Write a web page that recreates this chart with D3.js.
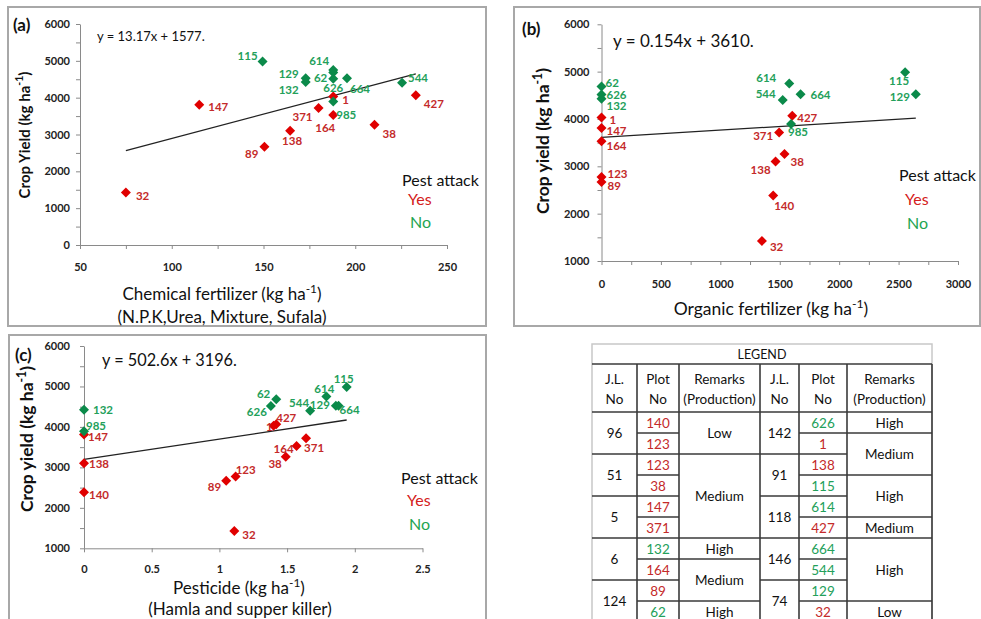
<!DOCTYPE html>
<html>
<head>
<meta charset="utf-8">
<script src="https://cdnjs.cloudflare.com/ajax/libs/d3/7.8.5/d3.min.js"></script>
<style>
body{margin:0;background:#fff;}
svg{display:block;font-family:Lato,"Open Sans",sans-serif;}
</style>
</head>
<body>
<svg id="chart" width="981" height="619"></svg>
<script>

// plot numbers and the crop yield of each plot (kg/ha)
var plotNo     = ["1","32","38","62","89","115","123","129","132","138","140","147","164","371","427","544","614","626","664","985"];
var pestAttack = ["Yes","Yes","Yes","No","Yes","No","Yes","No","No","Yes","Yes","Yes","Yes","Yes","Yes","No","No","No","No","No"];
var cropYield  = [4030,1425,3262,4685,2669,4985,2777,4525,4425,3102,2385,3810,3530,3717,4067,4402,4752,4515,4525,3894];

// inputs (null = not shown in that panel)
var chemFert   = [188,75,210.5,188,150.5,149.5,null,173,173,164.5,null,115,188,180,233,225.5,188,188,195.5,188];
var orgFert    = [0,1350,1540,0,0,2555,0,2645,0,1465,1445,0,0,1495,1605,1525,1580,0,1675,1595];
var pesticide  = [1.40,1.11,1.49,1.42,1.05,1.94,1.12,1.86,0,0,0,0,1.57,1.64,1.42,1.67,1.79,1.38,1.88,0];

// regression lines
var trendSlope     = [13.17,0.154,502.6];
var trendIntercept = [1577,3610,3196];
var trendText      = ["y = 13.17x + 1577.","y = 0.154x + 3610.","y = 502.6x + 3196."];

// tick labels
var chemTicks = [50,100,150,200,250];
var orgTicks  = [0,500,1000,1500,2000,2500,3000];
var pestTicks = [0,0.5,1,1.5,2,2.5];
var yieldTicksA = [0,1000,2000,3000,4000,5000,6000];
var yieldTicksBC = [1000,2000,3000,4000,5000,6000];

// legend table
var legJLLeft     = ["96","51","5","6","124"];
var legPlotLeft   = ["140","123","123","38","147","371","132","164","89","62"];
var legRemarkLeft = [["Low",2],["Medium",4],["High",1],["Medium",2],["High",1]];
var legJLRight     = ["142","91","118","146","74"];
var legPlotRight   = ["626","1","138","115","614","427","664","544","129","32"];
var legRemarkRight = [["High",1],["Medium",2],["High",2],["Medium",1],["High",3],["Low",1]];

var redMark="#e00000", greenMark="#0b8a4a", redText="#c42a2a", greenText="#23a05a";

// label offsets [dx, dy, anchor] for each panel
var labelPos = {
 a:{"1":[9,3,"start"],"32":[10,3,"start"],"38":[8,9,"start"],"62":[-6,5,"end"],"89":[-6,7,"end"],"115":[-5,-6,"end"],
    "129":[-7,-5,"end"],"132":[-7,7,"end"],"138":[2,10,"middle"],"147":[9,2,"start"],"164":[-8,13,"middle"],
    "371":[-6,8,"end"],"427":[8,8,"start"],"544":[6,-5,"start"],"614":[-4,-9,"end"],"626":[0,9,"middle"],
    "664":[3,10,"start"],"985":[3,13,"start"]},
 b:{"1":[8,2,"start"],"32":[8,6,"start"],"38":[6,8,"start"],"62":[4,-4,"start"],"89":[6,4,"start"],"115":[-6,8,"middle"],
    "123":[6,-3,"start"],"129":[-6,2,"end"],"132":[5,7,"start"],"138":[-5,8,"end"],"140":[1,10,"start"],"147":[5,3,"start"],
    "164":[5,4,"start"],"371":[-6,3,"end"],"427":[5,2,"start"],"544":[-7,-6,"end"],"614":[-13,-6,"end"],"626":[5,0,"start"],
    "664":[10,0,"start"],"985":[-3,8,"start"]},
 c:{"1":[-1,1,"end"],"32":[8,3,"start"],"38":[-4,7,"end"],"62":[-6,-6,"end"],"89":[-5,6,"end"],"115":[-3,-9,"middle"],
    "123":[0,-7,"start"],"129":[-6,-1,"end"],"132":[9,0,"start"],"138":[5,0,"start"],"140":[5,2,"start"],"147":[4,2,"start"],
    "164":[-3,3,"end"],"371":[-2,9,"start"],"427":[0,-7,"start"],"544":[-1,-8,"end"],"614":[-2,-8,"middle"],"626":[-4,5,"end"],
    "664":[1,4,"start"],"985":[2,-6,"start"]}
};

var svg = d3.select("#chart");

var panels = [
 {id:"a", tag:"(a)", box:[8,7,478,319], xs:chemFert, xDomain:[50,250], xRange:[80,447], yDomain:[0,6000], yRange:[245,24],
  xTicks:chemTicks, xMinor:25, yTicks:yieldTicksA, yPad:6, xPad:14, tagPos:[13,24,17],
  eqPos:[97,36,13], yTitle:"Crop Yield (kg ha", yTitlePos:[24,135,15],
  xTitle:["Chemical fertilizer (kg ha", "(N.P.K,Urea, Mixture, Sufala)"], xTitlePos:[[222,293],[222,316]], xTitleSize:17,
  legend:[402,179,198,221]},
 {id:"b", tag:"(b)", box:[514,7,466,319], xs:orgFert, xDomain:[0,3000], xRange:[601.5,958], yDomain:[1000,6000], yRange:[261,24.3],
  xTicks:orgTicks, xMinor:250, yTicks:yieldTicksBC, yPad:8, xPad:15, tagPos:[522,28,17],
  eqPos:[613,40,17], yTitle:"Crop yield (kg ha", yTitlePos:[542,141,17.5],
  xTitle:["Organic fertilizer (kg ha"], xTitlePos:[[771,308]], xTitleSize:17.5,
  legend:[899,174,198,222]},
 {id:"c", tag:"(c)", box:[9,335,477,300], xs:pesticide, xDomain:[0,2.5], xRange:[84,422.5], yDomain:[1000,6000], yRange:[548.3,346],
  xTicks:pestTicks, xMinor:null, yTicks:yieldTicksBC, yPad:10, xPad:13, tagPos:[15,354,17],
  eqPos:[102,359,16.3], yTitle:"Crop yield (kg ha", yTitlePos:[26,439,17.5],
  xTitle:["Pesticide (kg ha", "(Hamla and supper killer)"], xTitlePos:[[239,587],[240,608]], xTitleSize:17,
  legend:[401,477,499,523]}
];

function AddUnit(sel, prefix, suffix){
	sel.append("tspan").text(prefix);
	sel.append("tspan").attr("dy",-5).attr("font-size","0.7em").text("-1");
	sel.append("tspan").attr("dy",5).text(suffix);
}

function DrawPanel(p, k){
	var g = svg.append("g").attr("id","panel-"+p.id);
	g.append("rect")
	 .attr("x",p.box[0]).attr("y",p.box[1]).attr("width",p.box[2]).attr("height",p.box[3])
	 .attr("fill","#fff").attr("stroke","#a8a8a8").attr("stroke-width",2);

	var x = d3.scaleLinear().domain(p.xDomain).range(p.xRange);
	var y = d3.scaleLinear().domain(p.yDomain).range(p.yRange);

	// minor ticks
	var yMinor = d3.range(p.yDomain[0]+500, p.yDomain[1], 1000);
	g.append("g").attr("transform","translate("+p.xRange[0]+",0)")
	 .call(d3.axisLeft(y).tickValues(yMinor).tickSize(4).tickFormat(""))
	 .call(function(a){a.select(".domain").remove();});
	if(p.xMinor){
		var xMinor = d3.range(p.xDomain[0]+p.xMinor, p.xDomain[1], p.xMinor*2);
		g.append("g").attr("transform","translate(0,"+p.yRange[0]+")")
		 .call(d3.axisBottom(x).tickValues(xMinor).tickSize(4).tickFormat(""))
		 .call(function(a){a.select(".domain").remove();});
	}
	g.append("g").attr("transform","translate("+p.xRange[0]+",0)")
	 .call(d3.axisLeft(y).tickValues(p.yTicks).tickSize(4).tickSizeOuter(0).tickPadding(p.yPad).tickFormat(function(d){return d;}));
	g.append("g").attr("transform","translate(0,"+p.yRange[0]+")")
	 .call(d3.axisBottom(x).tickValues(p.xTicks).tickSize(4).tickSizeOuter(0).tickPadding(p.xPad).tickFormat(function(d){return d;}));
	g.selectAll(".domain, .tick line").attr("stroke","#8a8a8a");
	g.selectAll(".tick text").attr("font-family","Lato, sans-serif").attr("font-size",11).attr("font-weight","bold").attr("fill","#222");

	// trend line over the data range
	var xv = [];
	for(var i=0;i<plotNo.length;i++){ if(p.xs[i]!==null) xv.push(p.xs[i]); }
	var x0 = d3.min(xv), x1 = d3.max(xv);
	g.append("line")
	 .attr("x1",x(x0)).attr("y1",y(trendSlope[k]*x0+trendIntercept[k]))
	 .attr("x2",x(x1)).attr("y2",y(trendSlope[k]*x1+trendIntercept[k]))
	 .attr("stroke","#222").attr("stroke-width",1.3);

	var pts = [];
	for(var j=0;j<plotNo.length;j++){
		if(p.xs[j]===null) continue;
		pts.push({plot:plotNo[j], pest:pestAttack[j], xv:p.xs[j], yv:cropYield[j]});
	}
	g.selectAll("path.pt").data(pts).enter().append("path").attr("class","pt")
	 .attr("d","M0,-5L5,0L0,5L-5,0Z")
	 .attr("transform",function(d){return "translate("+x(d.xv)+","+y(d.yv)+")";})
	 .attr("fill",function(d){return d.pest=="Yes"?redMark:greenMark;});
	g.selectAll("text.lbl").data(pts).enter().append("text").attr("class","lbl")
	 .attr("x",function(d){return x(d.xv)+labelPos[p.id][d.plot][0];})
	 .attr("y",function(d){return y(d.yv)+labelPos[p.id][d.plot][1];})
	 .attr("text-anchor",function(d){return labelPos[p.id][d.plot][2];})
	 .attr("dominant-baseline","central")
	 .attr("font-size",11.5).attr("font-weight","bold")
	 .attr("fill",function(d){return d.pest=="Yes"?redText:greenText;})
	 .text(function(d){return d.plot;});

	// texts
	g.append("text").attr("x",p.tagPos[0]).attr("y",p.tagPos[1]).attr("dominant-baseline","central")
	 .attr("font-size",p.tagPos[2]).attr("font-weight","bold").attr("fill","#111").text(p.tag);
	g.append("text").attr("x",p.eqPos[0]).attr("y",p.eqPos[1]).attr("dominant-baseline","central")
	 .attr("font-size",p.eqPos[2]).attr("fill","#111").text(trendText[k]);
	var yt = g.append("text").attr("transform","translate("+p.yTitlePos[0]+","+p.yTitlePos[1]+") rotate(-90)")
	 .attr("text-anchor","middle").attr("dominant-baseline","central")
	 .attr("font-size",p.yTitlePos[2]).attr("font-weight","bold").attr("fill","#111");
	AddUnit(yt, p.yTitle, ")");
	var xt = g.append("text").attr("x",p.xTitlePos[0][0]).attr("y",p.xTitlePos[0][1])
	 .attr("text-anchor","middle").attr("dominant-baseline","central").attr("font-size",p.xTitleSize).attr("fill","#111");
	AddUnit(xt, p.xTitle[0], ")");
	if(p.xTitle.length>1){
		g.append("text").attr("x",p.xTitlePos[1][0]).attr("y",p.xTitlePos[1][1])
		 .attr("text-anchor","middle").attr("dominant-baseline","central").attr("font-size",p.xTitleSize).attr("fill","#111")
		 .text(p.xTitle[1]);
	}
	// pest attack legend
	g.append("text").attr("x",p.legend[0]).attr("y",p.legend[1]).attr("dominant-baseline","central")
	 .attr("font-size",16).attr("fill","#111").text("Pest attack");
	g.append("text").attr("x",p.legend[0]+6).attr("y",p.legend[2]).attr("dominant-baseline","central")
	 .attr("font-size",16).attr("fill","#d42020").text("Yes");
	g.append("text").attr("x",p.legend[0]+8).attr("y",p.legend[3]).attr("dominant-baseline","central")
	 .attr("font-size",16).attr("fill","#1fa552").text("No");
}

function PestColor(plot){
	var i = plotNo.indexOf(plot);
	return pestAttack[i]=="Yes" ? redText : greenText;
}

function DrawLegendTable(){
	var cols = [592,637,679,760,799,847,932];
	var top = 344, headTop = 364, rowTop = 412, rowH = 21, nRows = 10;
	var bottom = rowTop + rowH*nRows;
	var g = svg.append("g").attr("id","legend-table");
	var lc = "#3a3a3a";

	g.append("rect").attr("x",cols[0]).attr("y",top).attr("width",cols[6]-cols[0]).attr("height",bottom-top)
	 .attr("fill","#fff").attr("stroke","#c8c8c8").attr("stroke-width",1.5);
	g.append("text").attr("x",(cols[0]+cols[6])/2).attr("y",(top+headTop)/2).attr("text-anchor","middle")
	 .attr("dominant-baseline","central").attr("font-size",12.5).attr("fill","#111").text("LEGEND");

	function hline(x1,x2,yy){ g.append("line").attr("x1",x1).attr("x2",x2).attr("y1",yy).attr("y2",yy).attr("stroke",lc).attr("stroke-width",1.6); }
	function vline(xx,y1,y2){ g.append("line").attr("x1",xx).attr("x2",xx).attr("y1",y1).attr("y2",y2).attr("stroke",lc).attr("stroke-width",1.6); }
	function cell(txt,cx,cy,col){
		g.append("text").attr("x",cx).attr("y",cy).attr("text-anchor","middle").attr("dominant-baseline","central")
		 .attr("font-size",13.5).attr("fill",col||"#111").text(txt);
	}

	hline(cols[0],cols[6],headTop);
	hline(cols[0],cols[6],rowTop);
	for(var c=1;c<7;c++) vline(cols[c],headTop,bottom);

	// headers
	var heads = [["J.L.","No"],["Plot","No"],["Remarks","(Production)"]];
	for(var h=0;h<6;h++){
		var cx = (cols[h]+cols[h+1])/2;
		cell(heads[h%3][0],cx,379);
		cell(heads[h%3][1],cx,399);
	}

	function side(c0, jl, plots, remarks){
		var i;
		for(i=0;i<jl.length;i++){
			var y0 = rowTop + i*2*rowH;
			cell(jl[i],(cols[c0]+cols[c0+1])/2,y0+rowH);
			hline(cols[c0],cols[c0+1],y0+2*rowH);
		}
		for(i=0;i<plots.length;i++){
			var yy = rowTop + i*rowH;
			cell(plots[i],(cols[c0+1]+cols[c0+2])/2,yy+rowH/2,PestColor(plots[i]));
			hline(cols[c0+1],cols[c0+2],yy+rowH);
		}
		var r = 0;
		for(i=0;i<remarks.length;i++){
			var ys = rowTop + r*rowH, ye = rowTop + (r+remarks[i][1])*rowH;
			cell(remarks[i][0],(cols[c0+2]+cols[c0+3])/2,(ys+ye)/2);
			hline(cols[c0+2],cols[c0+3],ye);
			r += remarks[i][1];
		}
	}
	side(0, legJLLeft, legPlotLeft, legRemarkLeft);
	side(3, legJLRight, legPlotRight, legRemarkRight);
}

panels.forEach(function(p,k){ DrawPanel(p,k); });
DrawLegendTable();

</script>
</body>
</html>
